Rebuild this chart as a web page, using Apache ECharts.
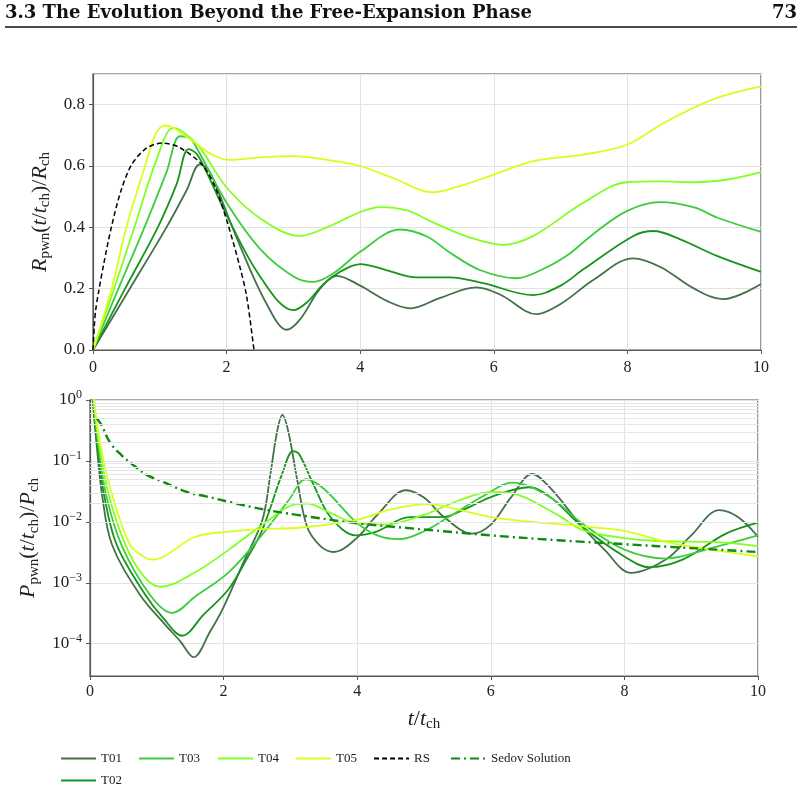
<!DOCTYPE html>
<html>
<head>
<meta charset="utf-8">
<script src="https://cdn.jsdelivr.net/npm/echarts@6/dist/echarts.min.js"></script>
<style>
html,body{margin:0;padding:0;background:#fff}
#main{width:802px;height:793px}
</style>
</head>
<body>
<div id="main"></div>
<script>
// radius of the pwn, top panel  [t/t_ch, R/R_ch]
var rT01 = [[0,0],[0.55,0.2],[1.1,0.4],[1.4,0.52],[1.6,0.605],[1.72,0.59],[1.85,0.53],[2.2,0.34],[2.6,0.15],[2.9,0.066],[3.1,0.1],[3.4,0.2],[3.65,0.242],[4.0,0.21],[4.4,0.16],[4.75,0.136],[5.2,0.17],[5.74,0.204],[6.1,0.18],[6.64,0.117],[7.0,0.15],[7.5,0.23],[8.09,0.299],[8.5,0.27],[9.0,0.2],[9.43,0.166],[10,0.215]];
var rT02 = [[0,0],[0.48,0.2],[0.97,0.4],[1.25,0.54],[1.43,0.655],[1.55,0.64],[1.7,0.58],[2.0,0.44],[2.5,0.24],[3.0,0.13],[3.2,0.155],[3.45,0.215],[3.7,0.255],[4.0,0.28],[4.4,0.26],[4.84,0.237],[5.34,0.237],[5.84,0.218],[6.59,0.179],[7.0,0.21],[7.34,0.263],[8.09,0.372],[8.39,0.388],[8.8,0.36],[9.34,0.307],[10,0.255]];
var rT03 = [[0,0],[0.38,0.2],[0.77,0.4],[1.1,0.58],[1.3,0.697],[1.45,0.69],[1.6,0.64],[2.0,0.48],[2.5,0.33],[3.0,0.24],[3.3,0.222],[3.6,0.25],[4.0,0.32],[4.6,0.393],[5.0,0.37],[5.34,0.318],[5.8,0.26],[6.34,0.234],[6.7,0.26],[7.09,0.307],[7.5,0.38],[7.99,0.453],[8.49,0.482],[9.0,0.465],[9.34,0.432],[10,0.385]];
var rT04 = [[0,0],[0.3,0.19],[0.62,0.4],[0.95,0.62],[1.2,0.724],[1.35,0.71],[1.6,0.66],[2.0,0.53],[2.5,0.43],[3.1,0.372],[3.5,0.4],[4.0,0.45],[4.3,0.466],[4.7,0.455],[5.09,0.416],[5.6,0.37],[6.14,0.343],[6.59,0.372],[7.34,0.48],[7.99,0.547],[8.5,0.55],[9.0,0.547],[9.5,0.556],[10,0.58]];
var rT05 = [[0,0],[0.28,0.2],[0.5,0.4],[0.78,0.6],[0.95,0.71],[1.08,0.732],[1.2,0.725],[1.5,0.68],[1.8,0.635],[2.05,0.62],[2.5,0.628],[3.0,0.632],[3.5,0.62],[4.0,0.6],[4.5,0.56],[5.09,0.514],[5.5,0.535],[6.0,0.572],[6.59,0.616],[7.34,0.637],[8.0,0.67],[8.59,0.746],[9.34,0.822],[10,0.86]];
var rRS  = [[0,0],[0.02,0.08],[0.04,0.13],[0.08,0.185],[0.16,0.28],[0.28,0.405],[0.42,0.52],[0.58,0.605],[0.8,0.658],[1.03,0.675],[1.3,0.66],[1.65,0.6],[1.85,0.52],[2.02,0.41],[2.2,0.27],[2.3,0.175],[2.41,0]];

// pressure of the pwn, bottom panel  [t/t_ch, P/P_ch]
var pT01 = [[0.02,3],[0.04,1],[0.11,0.14],[0.18,0.028],[0.33,0.0042],[0.75,0.00063],[1.1,0.00022],[1.35,0.00011],[1.55,0.00006],[1.8,0.00016],[2.0,0.0004],[2.3,0.0022],[2.58,0.0107],[2.7,0.06],[2.8,0.3],[2.88,0.57],[2.97,0.3],[3.1,0.05],[3.25,0.0083],[3.45,0.004],[3.65,0.0032],[4.0,0.0055],[4.3,0.013],[4.73,0.033],[5.0,0.025],[5.3,0.012],[5.72,0.0064],[6.0,0.009],[6.3,0.025],[6.62,0.061],[6.9,0.035],[7.37,0.0083],[7.7,0.0035],[8.1,0.00145],[8.62,0.0024],[9.0,0.006],[9.42,0.0156],[9.7,0.012],[10,0.0057]];
var pT02 = [[0.02,3],[0.045,1],[0.12,0.15],[0.21,0.028],[0.4,0.0042],[0.83,0.00063],[1.1,0.00026],[1.38,0.000135],[1.7,0.0003],[2.08,0.0008],[2.35,0.0025],[2.58,0.0074],[2.88,0.063],[3.04,0.145],[3.13,0.13],[3.35,0.04],[3.6,0.012],[3.98,0.006],[4.3,0.007],[4.78,0.012],[5.27,0.012],[5.7,0.018],[6.02,0.026],[6.57,0.037],[6.9,0.025],[7.37,0.0083],[8.0,0.0027],[8.37,0.0018],[8.87,0.0024],[9.52,0.0064],[10,0.0097]];
var pT03 = [[0.02,3],[0.05,1],[0.13,0.16],[0.24,0.028],[0.47,0.0042],[0.9,0.00063],[1.23,0.00032],[1.58,0.0006],[2.08,0.0015],[2.58,0.0062],[2.98,0.023],[3.23,0.05],[3.5,0.035],[3.98,0.01],[4.3,0.006],[4.63,0.0052],[5.0,0.007],[5.37,0.012],[5.9,0.027],[6.32,0.044],[6.87,0.026],[7.37,0.0094],[8.0,0.0035],[8.62,0.0025],[9.37,0.0039],[10,0.006]];
var pT04 = [[0.02,3],[0.055,1],[0.14,0.18],[0.28,0.028],[0.53,0.0042],[0.8,0.0013],[1.05,0.00086],[1.58,0.0015],[2.08,0.0035],[2.58,0.0089],[3.08,0.0195],[3.25,0.02],[3.6,0.014],[3.98,0.0095],[4.4,0.009],[5.0,0.013],[5.5,0.022],[6.02,0.031],[6.4,0.028],[7.0,0.013],[7.37,0.0074],[8.0,0.0054],[8.6,0.0048],[9.3,0.0047],[10,0.004]];
var pT05 = [[0.02,3],[0.06,1],[0.15,0.2],[0.33,0.028],[0.6,0.0042],[0.8,0.0027],[0.93,0.0024],[1.58,0.0057],[2.08,0.0069],[2.58,0.0076],[3.13,0.008],[3.98,0.0107],[4.5,0.016],[5.07,0.0195],[5.5,0.016],[6.02,0.0118],[6.62,0.01],[7.3,0.0086],[8.0,0.0071],[8.62,0.0047],[9.3,0.0035],[10,0.0027]];
var pSedov = [[0.1,0.5],[0.17,0.39],[0.3,0.2],[0.47,0.125],[0.65,0.085],[0.85,0.059],[1.1,0.045],[1.45,0.031],[1.75,0.026],[2.1,0.021],[2.6,0.016],[3.1,0.013],[4,0.0095],[5,0.0075],[6,0.006],[7,0.005],[8,0.0043],[9,0.0037],[10,0.0032]];

var colors = {T01:'#44704a',T02:'#17951b',T03:'#3ccc3c',T04:'#80ff20',T05:'#d8ff1c'};
var serif = '"Liberation Serif", "DejaVu Serif", serif';

// light minor grid of the log axis (2..9 x 10^k)
var minorGrid = [];
for (var k=-5;k<=-1;k++){
	for (var m=2;m<=9;m++){
		var v = m*Math.pow(10,k);
		if (v>2.95e-5) minorGrid.push({yAxis:v});
	}
}

var nameRich = {
	i:{fontFamily:serif,fontStyle:'italic',fontSize:22,lineHeight:26,color:'#222'},
	r:{fontFamily:serif,fontSize:22,lineHeight:26,color:'#222'},
	s:{fontFamily:serif,fontSize:15,lineHeight:10,verticalAlign:'bottom',color:'#222'}
};

var chart = echarts.init(document.getElementById('main'));

function tLine(name,data,axis){
	return {
		name:name, type:'line', data:data, xAxisIndex:axis, yAxisIndex:axis,
		smooth:0.35, symbol:'none', showSymbol:false,
		lineStyle:{color:colors[name],width:1.8},
		itemStyle:{color:colors[name]},
		z:3
	};
}

var axisCommon = {
	axisLine:{show:true,lineStyle:{color:'#555',width:1.2}},
	axisTick:{show:true,inside:false,length:4,lineStyle:{color:'#555'}},
	splitLine:{show:true,lineStyle:{color:'#e2e2e2',width:1}}
};

var legendCommon = {
	itemWidth:35, itemHeight:14, itemGap:8, padding:0, selectedMode:false,
	itemStyle:{opacity:0},
	textStyle:{fontFamily:serif,fontSize:13,color:'#222'}
};

var option = {
	animation:false,
	backgroundColor:'#fff',
	graphic:[
		{type:'text',left:5,top:4,style:{text:'3.3 The Evolution Beyond the Free-Expansion Phase',font:'bold 18px "DejaVu Serif", serif',fill:'#111'}},
		{type:'text',right:5,top:4,style:{text:'73',font:'bold 18px "DejaVu Serif", serif',fill:'#111'}},
		{type:'line',shape:{x1:5,y1:27,x2:797,y2:27},style:{stroke:'#111',lineWidth:1.5}}
	],
	grid:[
		{left:93,top:74,width:668,height:276,show:true,borderColor:'#555',borderWidth:1.2},
		{left:90,top:400,width:668,height:276,show:true,borderColor:'#555',borderWidth:1.2}
	],
	xAxis:[
		Object.assign({},axisCommon,{gridIndex:0,type:'value',min:0,max:10,interval:2,
			axisLabel:{fontFamily:serif,fontSize:16,color:'#222',margin:10}}),
		Object.assign({},axisCommon,{gridIndex:1,type:'value',min:0,max:10,interval:2,
			axisLabel:{fontFamily:serif,fontSize:16,color:'#222',margin:8},
			name:'{i|t}{r|/}{i|t}{s|ch}',nameLocation:'middle',nameGap:30,
			nameTextStyle:{rich:nameRich}})
	],
	yAxis:[
		Object.assign({},axisCommon,{gridIndex:0,type:'value',min:0,max:0.9,interval:0.2,
			axisLabel:{fontFamily:serif,fontSize:17,color:'#222',margin:8,showMaxLabel:false,
				formatter:function(v){return v.toFixed(1);}},
			name:'{i|R}{s|pwn}{r|(}{i|t}{r|/}{i|t}{s|ch}{r|)/}{i|R}{s|ch}',nameLocation:'middle',nameGap:30,
			nameTextStyle:{rich:nameRich}}),
		Object.assign({},axisCommon,{gridIndex:1,type:'log',logBase:10,min:2.95e-5,max:1,
			axisLabel:{fontFamily:serif,fontSize:17,color:'#222',margin:8,showMinLabel:false,
				formatter:function(v){
					var e = Math.round(Math.log(v)/Math.LN10);
					return '{b|10}{p|'+(e<0?'\u2212'+(-e):e)+'}';
				},
				rich:{b:{fontFamily:serif,fontSize:17,lineHeight:22,color:'#222'},
					p:{fontFamily:serif,fontSize:12,lineHeight:10,verticalAlign:'top',color:'#222'}}},
			name:'{i|P}{s|pwn}{r|(}{i|t}{r|/}{i|t}{s|ch}{r|)/}{i|P}{s|ch}',nameLocation:'middle',nameGap:31,
			nameTextStyle:{rich:nameRich}})
	],
	legend:[
		Object.assign({},legendCommon,{data:['T01'],left:60,top:752}),
		Object.assign({},legendCommon,{data:['T02'],left:60,top:774}),
		Object.assign({},legendCommon,{data:['T03'],left:138,top:752}),
		Object.assign({},legendCommon,{data:['T04'],left:217,top:752}),
		Object.assign({},legendCommon,{data:['T05'],left:295,top:752}),
		Object.assign({},legendCommon,{data:['RS'],left:373,top:752}),
		Object.assign({},legendCommon,{data:['Sedov Solution'],left:450,top:752})
	],
	series:[
		{name:'minor',type:'line',data:[],xAxisIndex:1,yAxisIndex:1,z:1,silent:true,
			markLine:{silent:true,symbol:['none','none'],label:{show:false},animation:false,
				lineStyle:{color:'#e6e6e6',type:'solid',width:1},data:minorGrid}},
		tLine('T01',rT01,0),tLine('T02',rT02,0),tLine('T03',rT03,0),tLine('T04',rT04,0),tLine('T05',rT05,0),
		{name:'RS',type:'line',data:rRS,xAxisIndex:0,yAxisIndex:0,smooth:0.3,symbol:'none',showSymbol:false,
			lineStyle:{color:'#000',width:1.5,type:[5,3]},itemStyle:{color:'#000'},z:4},
		tLine('T01',pT01,1),tLine('T02',pT02,1),tLine('T03',pT03,1),tLine('T04',pT04,1),tLine('T05',pT05,1),
		{name:'Sedov Solution',type:'line',data:pSedov,xAxisIndex:1,yAxisIndex:1,smooth:0.4,symbol:'none',showSymbol:false,
			lineStyle:{color:'#118a11',width:2.4,type:[9,4,2,4]},itemStyle:{color:'#118a11'},z:4}
	]
};
chart.setOption(option);
</script>
</body>
</html>
